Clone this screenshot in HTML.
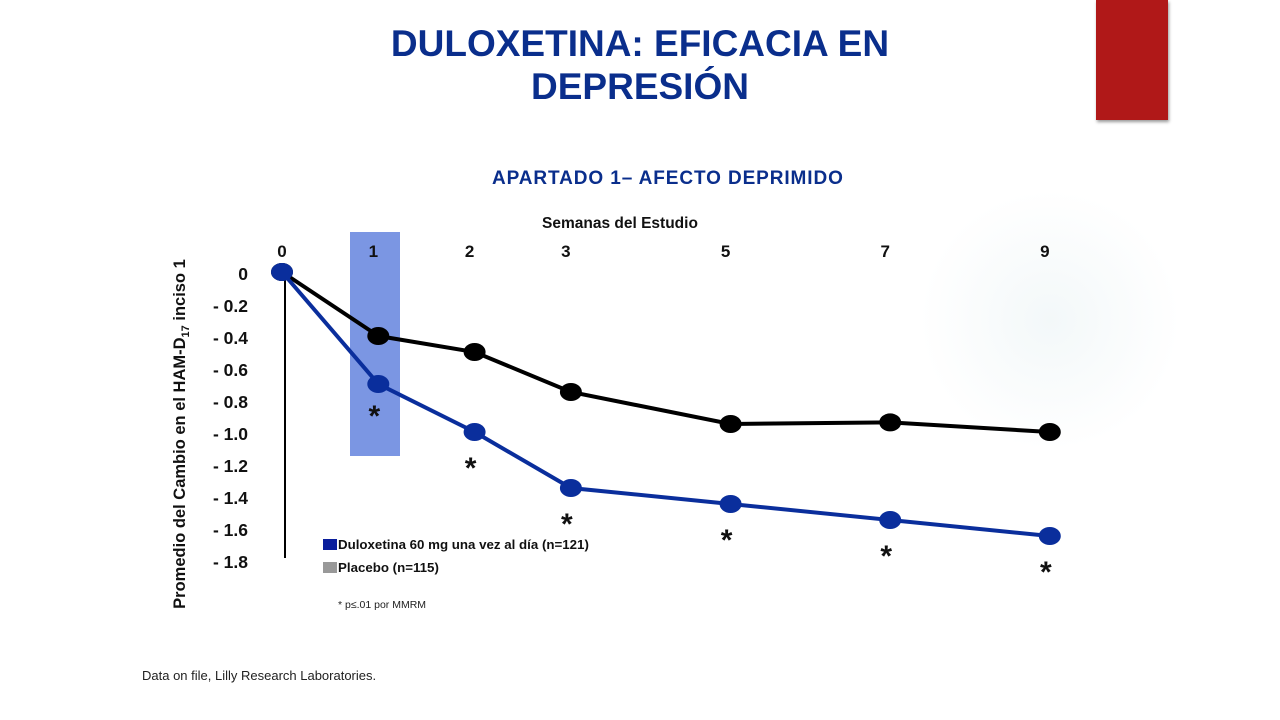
<!DOCTYPE html>
<html><head><meta charset="utf-8"><style>
body{margin:0;width:1280px;height:720px;overflow:hidden;background:#fff;font-family:"Liberation Sans",Arial,sans-serif;position:relative}
.t{position:absolute;white-space:nowrap}
</style></head><body>
<div style="position:absolute;inset:0;background:radial-gradient(circle at 1050px 320px,#f3f8f9 0,#fff 130px),radial-gradient(circle at 60px 450px,#f1f7f7 0,rgba(255,255,255,0) 160px),radial-gradient(circle at 920px 40px,#f1f7f8 0,rgba(255,255,255,0) 80px)"></div>
<div style="position:absolute;left:1096px;top:0;width:72px;height:120px;background:#b01818;box-shadow:1px 2px 3px #999"></div>
<div class="t" style="left:340px;top:22px;width:600px;text-align:center;white-space:normal;color:#0a2e8c;font-weight:bold;font-size:37px;line-height:43px">DULOXETINA: EFICACIA EN DEPRESIÓN</div>
<div class="t" style="left:492px;top:168px;color:#0a2e8c;font-weight:bold;font-size:19px;letter-spacing:0.9px">APARTADO 1– AFECTO DEPRIMIDO</div>
<div class="t" style="left:542px;top:215px;font-weight:bold;font-size:15.5px;color:#111">Semanas del Estudio</div>
<div class="t" style="left:338px;top:599px;font-size:10.5px;color:#222">* p≤.01 por MMRM</div>
<div class="t" style="left:142px;top:668px;font-size:13px;color:#222">Data on file, Lilly Research Laboratories.</div>
<svg id="chart" width="1280" height="720" style="position:absolute;left:0;top:0" font-family="Liberation Sans, Arial, sans-serif"></svg>
<script>
const weeks=[0,1,2,3,5,7,9];
const dulox=[0,-0.7,-1.0,-1.35,-1.45,-1.55,-1.65];
const placebo=[0,-0.4,-0.5,-0.75,-0.95,-0.94,-1.0];
const yTicks=[0,-0.2,-0.4,-0.6,-0.8,-1.0,-1.2,-1.4,-1.6,-1.8];
const yTickLabels=["0","- 0.2","- 0.4","- 0.6","- 0.8","- 1.0","- 1.2","- 1.4","- 1.6","- 1.8"];
const sig=[false,true,true,true,true,true,true];
const NS="http://www.w3.org/2000/svg";
const svg=document.getElementById('chart');
function x(w){return w<=3?282+w*96.3:571+(w-3)*79.8;}
function y(v){return 272-v*160;}
function mk(t,a){const e=document.createElementNS(NS,t);for(const k in a)e.setAttribute(k,a[k]);svg.appendChild(e);return e;}
let e;
e=mk('rect',{x:350,y:232,width:50,height:224,fill:'#7b96e3'});


e=mk('line',{x1:285,y1:272,x2:285,y2:558,stroke:'#000','stroke-width':2});


yTicks.forEach((v,i)=>{const t=mk('text',{x:248,y:y(v)+8,'text-anchor':'end','font-size':17.5,'font-weight':'bold',fill:'#111'});t.textContent=yTickLabels[i];

});
weeks.forEach(w=>{const t=mk('text',{x:w===0?282:x(w)-5,y:257,'text-anchor':'middle','font-size':17,'font-weight':'bold',fill:'#111'});t.textContent=w;

});
e=mk('text',{transform:'translate(185,434) rotate(-90)','text-anchor':'middle','font-size':16.5,'font-weight':'bold',fill:'#111'});
e.innerHTML='Promedio del  Cambio en el HAM-D<tspan font-size="11" dy="4">17</tspan><tspan dy="-4"> inciso 1</tspan>';


function series(vals,color,name){
 const p=mk('polyline',{points:vals.map((v,i)=>x(weeks[i])+','+y(v)).join(' '),fill:'none',stroke:color,'stroke-width':4});
 
 
 vals.forEach((v,i)=>{const c=mk('ellipse',{cx:x(weeks[i]),cy:y(v),rx:11,ry:9,fill:color});
 
 });
}
series(placebo,'#000','placebo');
series(dulox,'#0a2e9c','duloxetine');
dulox.forEach((v,i)=>{if(!sig[i])return;const t=mk('text',{x:x(weeks[i])-4,y:y(v)+(i===1?42:46),'text-anchor':'middle','font-size':30,'font-weight':'bold',fill:'#111'});t.textContent='*';

});
e=mk('rect',{x:323,y:539,width:14,height:11,fill:'#0a1e9c'});


e=mk('text',{x:338,y:549,'font-size':13.3,'font-weight':'bold',fill:'#111'});e.textContent='Duloxetina 60 mg una vez al día  (n=121)';


e=mk('rect',{x:323,y:562,width:14,height:11,fill:'#999'});


e=mk('text',{x:338,y:572,'font-size':13.3,'font-weight':'bold',fill:'#111'});e.textContent='Placebo (n=115)';


</script>
</body></html>
